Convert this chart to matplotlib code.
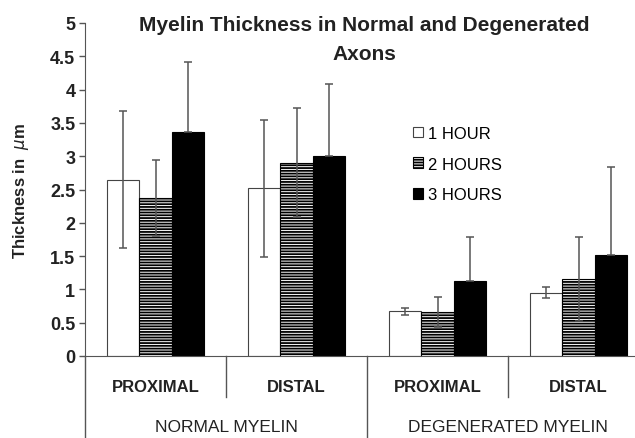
import numpy as np
import matplotlib
matplotlib.use("Agg")
import matplotlib.pyplot as plt
import matplotlib.transforms as mtransforms

plt.rcParams['font.family'] = ['Liberation Sans', 'DejaVu Sans']
plt.rcParams['hatch.linewidth'] = 1.3

# data
sites = ['PROXIMAL', 'DISTAL', 'PROXIMAL', 'DISTAL']
groups = ['NORMAL MYELIN', 'DEGENERATED MYELIN']
series = ['1 HOUR', '2 HOURS', '3 HOURS']
hour1 = [2.65, 2.52, 0.67, 0.95]
hour2 = [2.37, 2.90, 0.66, 1.15]
hour3 = [3.37, 3.00, 1.13, 1.52]
err1 = [1.03, 1.03, 0.05, 0.08]
err2 = [0.57, 0.82, 0.23, 0.63]
err3 = [1.05, 1.08, 0.65, 1.32]

fig = plt.figure(figsize=(6.35, 4.39), dpi=100)
# axes runs past the right edge, like the cropped original
ax = fig.add_axes([85 / 635, 82 / 439, 564 / 635, 333 / 439])

x = np.arange(len(sites))
w = 0.227
styles = [dict(color='white', edgecolor='#444444'),
          dict(color='white', edgecolor='black', hatch='------'),
          dict(color='black', edgecolor='black')]
vals = [hour1, hour2, hour3]
errs = [err1, err2, err3]
for i in range(3):
    ax.bar(x + (i - 1) * w, vals[i], w, label=series[i], linewidth=0.8, **styles[i])
    e = np.array(errs[i])
    # lower whisker disappears inside the black bars
    yerr = [np.zeros_like(e), e] if i == 2 else e
    ax.errorbar(x + (i - 1) * w, vals[i], yerr=yerr, fmt='none',
                ecolor='#555555', elinewidth=1.1, capsize=3, capthick=1.1)

ax.set_xlim(-0.5, 3.5)
ax.set_ylim(0, 5)
ax.set_yticks(np.arange(0, 5.01, 0.5))
ax.set_yticklabels(['0', '0.5', '1', '1.5', '2', '2.5', '3', '3.5', '4', '4.5', '5'],
                   fontsize=13, fontweight='bold', color='#222222')
ax.tick_params(axis='y', direction='out', length=4, width=1, color='#555555', pad=3)
ax.set_xticks([])
for s in ['top', 'right']:
    ax.spines[s].set_visible(False)
ax.spines['left'].set_color('#555555')
ax.spines['bottom'].set_color('#555555')
ax.spines['left'].set_bounds(0, 5)

ax.set_ylabel(r'Thickness in  $\mu$m', fontsize=12, fontweight='bold', color='#222222')
ax.yaxis.set_label_coords(-(85 - 31) / 564, 0.5)

# category axis with separators
trans = mtransforms.blended_transform_factory(ax.transData, ax.transAxes)
for xs, ybot in [(-0.5, -0.3), (0.5, -0.123), (1.5, -0.3), (2.5, -0.123)]:
    ax.plot([xs, xs], [0, ybot], transform=trans, color='#555555', lw=1, clip_on=False)
for xi, s in zip(x, sites):
    ax.text(xi, -0.093, s, transform=trans, ha='center', va='center',
            fontsize=12, fontweight='bold', color='#222222')
for gx, g in zip([0.5, 2.5], groups):
    ax.text(gx, -0.213, g, transform=trans, ha='center', va='center',
            fontsize=12.5, color='#222222')

fig.text(364 / 635, 1 - 40 / 439, 'Myelin Thickness in Normal and Degenerated\nAxons',
         ha='center', va='center', fontsize=15, fontweight='bold',
         linespacing=1.7, color='#222222')

ax.legend(loc='upper left', bbox_to_anchor=((406 - 85) / 564, (357 - 120) / 333),
          frameon=False, fontsize=12, handlelength=0.6, handleheight=0.6,
          handletextpad=0.3, labelspacing=0.95, borderaxespad=0)

fig.savefig('out.png', dpi=100)
